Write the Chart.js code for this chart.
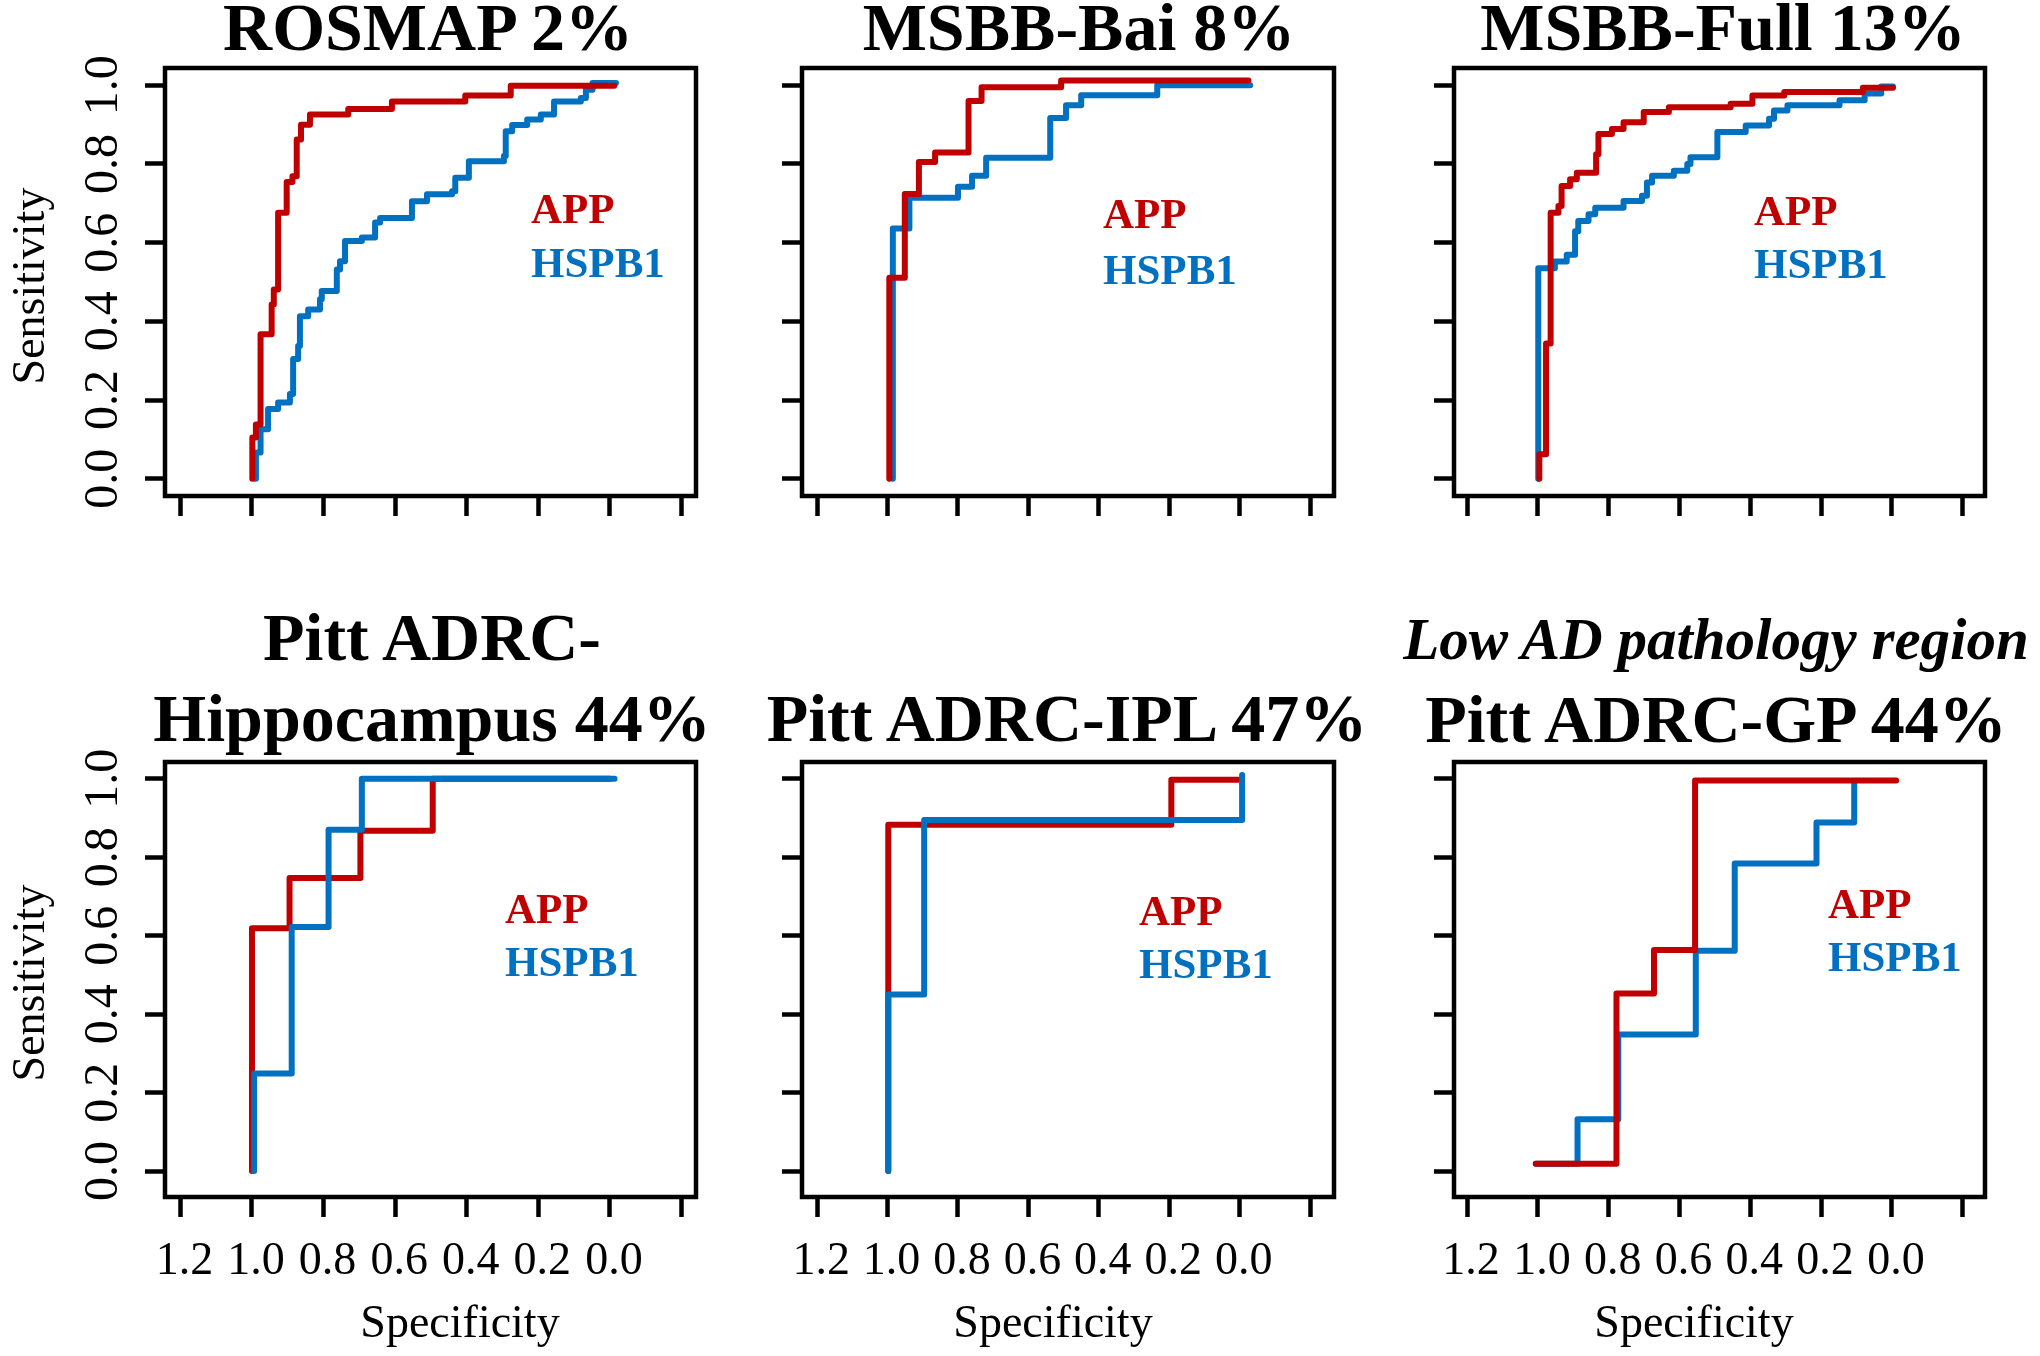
<!DOCTYPE html>
<html>
<head>
<meta charset="utf-8">
<script src="https://cdn.jsdelivr.net/npm/chart.js@4.4.1/dist/chart.umd.min.js"></script>
<style>
  html, body { margin: 0; padding: 0; background: #fff; }
  #page { position: relative; width: 2040px; height: 1356px; overflow: hidden; background: #fff; }
  #page canvas { position: absolute; z-index: 1; }
  #labels { position: absolute; left: 0; top: 0; z-index: 2; }
</style>
</head>
<body>
<div id="page">
<svg id="labels" width="2040" height="1356" font-family="'Liberation Serif', 'Times New Roman', serif">
  <g font-weight="bold" font-size="68" text-anchor="middle" fill="#000">
    <text x="428" y="50">ROSMAP 2%</text>
    <text x="1079" y="50">MSBB-Bai 8%</text>
    <text x="1723" y="50">MSBB-Full 13%</text>
    <text x="432" y="660">Pitt ADRC-</text>
    <text x="432" y="741">Hippocampus 44%</text>
    <text x="1067" y="741">Pitt ADRC-IPL 47%</text>
    <text x="1716" y="742">Pitt ADRC-GP 44%</text>
  </g>
  <text x="1716" y="659" font-weight="bold" font-style="italic" font-size="59" text-anchor="middle">Low AD pathology region</text>
  <g font-size="46" text-anchor="middle" fill="#000">
    <text transform="translate(44,286) rotate(-90)">Sensitivity</text>
    <text transform="translate(44,983) rotate(-90)">Sensitivity</text>
    <text x="460" y="1337">Specificity</text>
    <text x="1053" y="1337">Specificity</text>
    <text x="1694" y="1337">Specificity</text>
  </g>
  <g font-weight="bold" font-size="43">
    <text x="531" y="223" fill="#c00000">APP</text>
    <text x="531" y="277" fill="#0070c0">HSPB1</text>
    <text x="1103" y="228" fill="#c00000">APP</text>
    <text x="1103" y="284" fill="#0070c0">HSPB1</text>
    <text x="1754" y="225" fill="#c00000">APP</text>
    <text x="1754" y="278" fill="#0070c0">HSPB1</text>
    <text x="505" y="923" fill="#c00000">APP</text>
    <text x="505" y="976" fill="#0070c0">HSPB1</text>
    <text x="1139" y="925" fill="#c00000">APP</text>
    <text x="1139" y="978" fill="#0070c0">HSPB1</text>
    <text x="1828" y="918" fill="#c00000">APP</text>
    <text x="1828" y="971" fill="#0070c0">HSPB1</text>
  </g>
</svg>
</div>
<script>
const RED = '#c00000';
const BLUE = '#0070c0';
const SERIF = "'Liberation Serif', 'Times New Roman', serif";

// axis ticks (specificity runs backwards, like pROC)
const specTicks = [1.2, 1.0, 0.8, 0.6, 0.4, 0.2, 0.0, -0.2];
const specTickLabels = ['1.2', '1.0', '0.8', '0.6', '0.4', '0.2', '0.0', ''];
const sensTicks = [0.0, 0.2, 0.4, 0.6, 0.8, 1.0];
const sensTickLabels = ['0.0', '0.2', '0.4', '0.6', '0.8', '1.0'];

// ROC vertices: from the previous point go across to the new specificity, then up to the new sensitivity
// ROSMAP
const rosmapAppSpec = [0.999, 0.999, 0.989, 0.976, 0.945, 0.939, 0.927, 0.903, 0.887, 0.875, 0.863, 0.838, 0.731, 0.609, 0.404, 0.277, -0.012];
const rosmapAppSens = [0, 0.105, 0.138, 0.367, 0.443, 0.481, 0.676, 0.754, 0.769, 0.862, 0.900, 0.926, 0.940, 0.959, 0.974, 0.999, 0.999];
const rosmapHspb1Spec = [0.992, 0.989, 0.976, 0.955, 0.927, 0.894, 0.885, 0.871, 0.866, 0.843, 0.810, 0.805, 0.763, 0.754, 0.740, 0.693, 0.656, 0.642, 0.553, 0.511, 0.441, 0.432, 0.394, 0.296, 0.291, 0.273, 0.231, 0.193, 0.156, 0.081, 0.067, 0.0485, -0.017];
const rosmapHspb1Sens = [0, 0.0665, 0.126, 0.177, 0.194, 0.215, 0.304, 0.337, 0.413, 0.430, 0.456, 0.477, 0.532, 0.553, 0.604, 0.613, 0.651, 0.663, 0.705, 0.723, 0.731, 0.765, 0.807, 0.820, 0.883, 0.899, 0.913, 0.926, 0.959, 0.968, 0.989, 1.006, 1.006];

// MSBB-Bai
const baiAppSpec = [0.995, 0.995, 0.951, 0.911, 0.865, 0.770, 0.733, 0.507, -0.025];
const baiAppSens = [0, 0.511, 0.724, 0.805, 0.829, 0.960, 0.995, 1.012, 1.012];
const baiHspb1Spec = [0.985, 0.985, 0.938, 0.80, 0.76, 0.72, 0.538, 0.493, 0.450, 0.234, -0.03];
const baiHspb1Sens = [0, 0.636, 0.714, 0.742, 0.770, 0.816, 0.917, 0.949, 0.975, 1.0, 1.0];

// MSBB-Full
const fullAppSpec = [0.996, 0.996, 0.977, 0.964, 0.942, 0.933, 0.909, 0.890, 0.8355, 0.829, 0.791, 0.758, 0.701, 0.630, 0.4555, 0.394, 0.304, 0.082, -0.003];
const fullAppSens = [0, 0.062, 0.3435, 0.676, 0.693, 0.744, 0.761, 0.778, 0.825, 0.876, 0.889, 0.906, 0.932, 0.9445, 0.953, 0.974, 0.983, 0.994, 0.994];
const fullHspb1Spec = [0.999, 0.999, 0.952, 0.9185, 0.895, 0.886, 0.857, 0.838, 0.758, 0.706, 0.692, 0.6775, 0.616, 0.578, 0.569, 0.493, 0.413, 0.347, 0.333, 0.295, 0.148, 0.077, 0.030, -0.003];
const fullHspb1Sens = [0, 0.535, 0.552, 0.5695, 0.629, 0.655, 0.672, 0.689, 0.706, 0.719, 0.753, 0.770, 0.783, 0.800, 0.817, 0.881, 0.898, 0.915, 0.936, 0.949, 0.962, 0.979, 0.997, 0.997];

// Pitt ADRC-Hippocampus
const hippAppSpec = [1.0, 1.0, 0.895, 0.697, 0.495, 0.0];
const hippAppSens = [0, 0.619, 0.7475, 0.868, 1.0, 1.0];
const hippHspb1Spec = [0.994, 0.994, 0.889, 0.786, 0.693, -0.013];
const hippHspb1Sens = [0, 0.249, 0.6225, 0.870, 1.0, 1.0];

// Pitt ADRC-IPL
const iplAppSpec = [0.998, 0.998, 0.194, 0.005];
const iplAppSens = [0, 0.883, 0.9975, 0.9975];
const iplHspb1Spec = [0.998, 0.998, 0.896, -0.007];
const iplHspb1Sens = [0, 0.45, 0.895, 1.01];

// Pitt ADRC-GP
const gpAppSpec = [1.006, 0.778, 0.672, 0.556, -0.012];
const gpAppSens = [0.0185, 0.453, 0.564, 0.996, 0.996];
const gpHspb1Spec = [1.006, 0.888, 0.773, 0.554, 0.444, 0.213, 0.1065];
const gpHspb1Sens = [0.0185, 0.132, 0.348, 0.562, 0.784, 0.889, 0.988];

// plot boxes on the page
const cols = [
    { left: 165, width: 531, min: -0.2406, max: 1.243 },
    { left: 802, width: 532, min: -0.268, max: 1.243 },
    { left: 1454, width: 531, min: -0.263, max: 1.237 }
];
const rows = [
    { top: 68, height: 428, min: -0.044, max: 1.044 },
    { top: 762, height: 435, min: -0.066, max: 1.043 }
];

const panels = [
    { row: 0, col: 0, app: [rosmapAppSpec, rosmapAppSens], hspb1: [rosmapHspb1Spec, rosmapHspb1Sens], onTop: 'APP' },
    { row: 0, col: 1, app: [baiAppSpec, baiAppSens], hspb1: [baiHspb1Spec, baiHspb1Sens], onTop: 'APP' },
    { row: 0, col: 2, app: [fullAppSpec, fullAppSens], hspb1: [fullHspb1Spec, fullHspb1Sens], onTop: 'APP' },
    { row: 1, col: 0, app: [hippAppSpec, hippAppSens], hspb1: [hippHspb1Spec, hippHspb1Sens], onTop: 'HSPB1' },
    { row: 1, col: 1, app: [iplAppSpec, iplAppSens], hspb1: [iplHspb1Spec, iplHspb1Sens], onTop: 'HSPB1' },
    { row: 1, col: 2, app: [gpAppSpec, gpAppSens], hspb1: [gpHspb1Spec, gpHspb1Sens], onTop: 'APP' }
];

function steps(spec, sens) {
    const pts = [{ x: spec[0], y: sens[0] }];
    for (let i = 1; i < spec.length; i++) {
        pts.push({ x: spec[i], y: sens[i - 1] });
        pts.push({ x: spec[i], y: sens[i] });
    }
    return pts;
}

// the R style box around the plot region
const boxPlugin = {
    id: 'rbox',
    afterDatasetsDraw(chart) {
        const { ctx, chartArea: a } = chart;
        ctx.save();
        ctx.strokeStyle = '#000';
        ctx.lineWidth = 4.5;
        ctx.strokeRect(a.left, a.top, a.right - a.left, a.bottom - a.top);
        ctx.restore();
    }
};

const PAD_L = 150, PAD_T = 60, PAD_R = 60, PAD_B = 110;
const Y_AXIS_W = 80, X_AXIS_H = 90;

const page = document.getElementById('page');

panels.forEach(p => {
    const c = cols[p.col];
    const r = rows[p.row];
    const canvas = document.createElement('canvas');
    canvas.width = c.width + PAD_L + PAD_R;
    canvas.height = r.height + PAD_T + PAD_B;
    canvas.style.left = (c.left - PAD_L) + 'px';
    canvas.style.top = (r.top - PAD_T) + 'px';
    page.appendChild(canvas);

    const line = (label, xy, color) => ({
        label: label,
        data: steps(xy[0], xy[1]),
        showLine: true,
        borderColor: color,
        backgroundColor: color,
        borderWidth: 6,
        borderCapStyle: 'round',
        borderJoinStyle: 'round',
        pointRadius: 0,
        tension: 0,
        fill: false,
        order: p.onTop === label ? 0 : 1
    });

    const grid = {
        drawOnChartArea: false,
        drawTicks: true,
        tickLength: 20,
        tickWidth: 4.5,
        tickColor: '#000'
    };

    new Chart(canvas.getContext('2d'), {
        type: 'scatter',
        data: {
            datasets: [
                line('APP', p.app, RED),
                line('HSPB1', p.hspb1, BLUE)
            ]
        },
        options: {
            responsive: false,
            animation: false,
            layout: {
                autoPadding: false,
                padding: { left: PAD_L - Y_AXIS_W, top: PAD_T, right: PAD_R, bottom: PAD_B - X_AXIS_H }
            },
            scales: {
                x: {
                    type: 'linear',
                    position: 'bottom',
                    reverse: true,
                    min: c.min,
                    max: c.max,
                    afterBuildTicks: s => { s.ticks = specTicks.map(v => ({ value: v })); },
                    afterFit: s => { s.height = X_AXIS_H; },
                    ticks: {
                        display: p.row === 1,
                        autoSkip: false,
                        minRotation: 0,
                        maxRotation: 0,
                        padding: 17,
                        labelOffset: 4,
                        color: '#000',
                        font: { family: SERIF, size: 46 },
                        callback: v => specTickLabels[specTicks.indexOf(v)]
                    },
                    grid: grid,
                    border: { display: false }
                },
                y: {
                    type: 'linear',
                    position: 'left',
                    min: r.min,
                    max: r.max,
                    afterBuildTicks: s => { s.ticks = sensTicks.map(v => ({ value: v })); },
                    afterFit: s => { s.width = Y_AXIS_W; },
                    ticks: {
                        display: p.col === 0,
                        minRotation: 90,
                        maxRotation: 90,
                        crossAlign: 'center',
                        padding: 11,
                        color: '#000',
                        font: { family: SERIF, size: 48 },
                        callback: v => sensTickLabels[sensTicks.indexOf(v)]
                    },
                    grid: grid,
                    border: { display: false }
                }
            },
            plugins: {
                legend: { display: false },
                tooltip: { enabled: false }
            }
        },
        plugins: [boxPlugin]
    });
});
</script>
</body>
</html>
